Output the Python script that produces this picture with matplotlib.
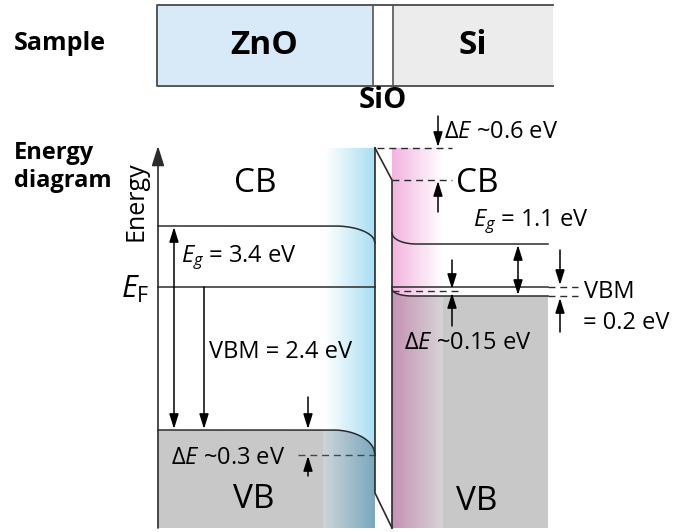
import numpy as np
import matplotlib.pyplot as plt
from matplotlib.patches import Polygon

plt.rcParams['font.family'] = ['Open Sans', 'DejaVu Sans']
plt.rcParams['mathtext.fontset'] = 'custom'
plt.rcParams['mathtext.rm'] = 'Open Sans'
plt.rcParams['mathtext.it'] = 'Open Sans:italic'

# ---- diagram data (y in diagram rows, downward = lower energy) ----
zno_x = [158, 375]          # ZnO slab
si_x = [392, 548]           # Si slab
zno_levels = [226, 287, 430]   # CB, E_F, VB (flat part)
zno_bend = [17, 0, 25]         # downward bending at the interface
si_levels = [244, 287, 296]    # CB, E_F, VB (flat part)
si_bend = [11, 0, 7]           # upward bending at the interface
barrier = [148, 180]           # SiO barrier top (ZnO side, Si side)
bottom, top = 528, 146

LINE = '#2b2b2b'
GRAY = '#c8c8c8'
FS = 17   # body label size
FB = 24   # CB / VB size


def zno_curve(y0, b, x0=335, x1=375, n=60):
    x = np.linspace(zno_x[0], x1, n * 3)
    t = np.clip((x - x0) / (x1 - x0), 0, 1)
    return x, y0 + b * (1 - np.sqrt(1 - t ** 2))


def si_curve(y0, b, width=22, n=180):
    x = np.linspace(si_x[0], si_x[1], n)
    s = np.clip(1 - (x - si_x[0]) / width, 0, 1)
    return x, y0 - b * (1 - np.sqrt(1 - s ** 2))


def hgrad(ax, x0, x1, y0, y1, c0, c1, clip=None, z=1):
    t = np.linspace(0, 1, 64)[None, :, None]
    img = (np.array(c0)[None, None, :] * (1 - t) + np.array(c1)[None, None, :] * t) / 255
    im = ax.imshow(img, extent=(x0, x1, y1, y0), aspect='auto',
                   interpolation='bilinear', zorder=z)
    if clip is not None:
        im.set_clip_path(clip)
    return im


def arrow(ax, x, y_from, y_to, both=False):
    style = '<|-|>' if both else '-|>'
    ax.annotate('', xy=(x, y_to), xytext=(x, y_from),
                arrowprops=dict(arrowstyle=style + ',head_length=0.9,head_width=0.28',
                                color='black', lw=1.1, shrinkA=0, shrinkB=0),
                zorder=6)


fig = plt.figure(figsize=(6.91, 5.32), dpi=100)
ax = fig.add_axes([0, 0, 1, 1])
ax.set_xlim(0, 691)
ax.set_ylim(532, 0)
ax.axis('off')

# ---- sample strip ----
ax.fill_between([157, 373], 5, 86, color='#d8eaf8', lw=0, zorder=1)
ax.fill_between([393, 553], 5, 86, color='#ececec', lw=0, zorder=1)
ax.plot([553, 157, 157, 553], [5, 5, 86, 86], color='#555555', lw=1.4, zorder=2)
ax.plot([373, 373], [5, 86], color='#555555', lw=1.2, zorder=2)
ax.plot([393, 393], [5, 86], color='#555555', lw=1.2, zorder=2)
ax.text(14, 44, 'Sample', fontsize=18, fontweight='bold', va='center', ha='left')
ax.text(264, 46, 'ZnO', fontsize=24, fontweight='bold', ha='center', va='center')
ax.text(473, 45, 'Si', fontsize=24, fontweight='bold', ha='center', va='center')
ax.text(383, 101, 'SiO', fontsize=21, fontweight='bold', ha='center', va='center')
ax.text(14, 167, 'Energy\ndiagram', fontsize=17, fontweight='bold', va='center',
        ha='left', linespacing=1.25)

# ---- ZnO side ----
xv, yv = zno_curve(zno_levels[2], zno_bend[2], x0=333)
vb_poly = Polygon(np.vstack([np.column_stack([xv, yv]),
                             [[zno_x[1], bottom], [zno_x[0], bottom]]]),
                  closed=True, fc=GRAY, ec='none', zorder=1)
ax.add_patch(vb_poly)
hgrad(ax, 325, zno_x[1], barrier[0], bottom, (255, 255, 255), (168, 222, 243), z=1.5)
hgrad(ax, 323, zno_x[1], barrier[0], bottom, (206, 212, 216), (122, 168, 190),
      clip=vb_poly, z=1.6)

xc, yc = zno_curve(zno_levels[0], zno_bend[0])
ax.plot(xc, yc, color=LINE, lw=1.1, zorder=4)
ax.plot(xv, yv, color=LINE, lw=1.1, zorder=4)
ax.plot(zno_x, [zno_levels[1]] * 2, color=LINE, lw=1.1, zorder=4)
ax.plot([298, zno_x[1]], [zno_levels[2] + zno_bend[2]] * 2, color='#3a4a55',
        lw=1.0, ls=(0, (5, 3.5)), zorder=4)

# ---- Si side ----
xsv, ysv = si_curve(si_levels[2], si_bend[2], width=20)
si_poly = Polygon(np.vstack([np.column_stack([xsv, ysv]),
                             [[si_x[1], bottom], [si_x[0], bottom]]]),
                  closed=True, fc=GRAY, ec='none', zorder=1)
ax.add_patch(si_poly)
hgrad(ax, si_x[0], 443, barrier[0], bottom, (242, 180, 224), (255, 255, 255), z=1.5)
hgrad(ax, si_x[0], 443, barrier[0], bottom, (198, 146, 180), (214, 211, 214),
      clip=si_poly, z=1.6)

xsc, ysc = si_curve(si_levels[0], si_bend[0], width=24)
ax.plot(xsc, ysc, color=LINE, lw=1.1, zorder=4)
ax.plot(xsv, ysv, color=LINE, lw=1.1, zorder=4)
ax.plot(si_x, [si_levels[1]] * 2, color=LINE, lw=1.1, zorder=4)
dash = dict(color=LINE, lw=1.0, ls=(0, (5, 3.5)), zorder=4)
ax.plot([si_x[1], 578], [si_levels[1]] * 2, **dash)
ax.plot([si_x[1], 578], [si_levels[2]] * 2, **dash)
ax.plot([si_x[0], 462], [si_levels[2] - 5] * 2, **dash)
ax.plot([377, 452], [barrier[0]] * 2, **dash)
ax.plot([si_x[0], 452], [barrier[1]] * 2, **dash)

# ---- SiO barrier outline ----
ax.plot([zno_x[1], zno_x[1], si_x[0]], [barrier[0], 493, bottom], color=LINE, lw=1.2, zorder=5)
ax.plot([zno_x[1], si_x[0], si_x[0]], [barrier[0], barrier[1], bottom], color=LINE, lw=1.2, zorder=5)

# ---- energy axis ----
ax.annotate('', xy=(zno_x[0], top), xytext=(zno_x[0], bottom),
            arrowprops=dict(arrowstyle='-|>,head_length=1.2,head_width=0.38',
                            color=LINE, lw=1.2, shrinkA=0, shrinkB=0), zorder=6)
ax.text(136, 201, 'Energy', rotation=90, fontsize=18, ha='center', va='center')
ax.text(149, 289, r'$E_{\mathrm{F}}$', fontsize=22, ha='right', va='center')

# ---- arrows ----
arrow(ax, 174, 429, 227, both=True)
arrow(ax, 204, zno_levels[1], 429)
arrow(ax, 308, 397, 429)
arrow(ax, 308, 476, 456)
arrow(ax, 438, 116, 147)
arrow(ax, 438, 212, 181)
arrow(ax, 518, 295, 245, both=True)
arrow(ax, 560, 250, 285)
arrow(ax, 560, 332, 298)
arrow(ax, 452, 260, 289)
arrow(ax, 452, 326, 293)

# ---- labels ----
ax.text(255, 183, 'CB', fontsize=FB, ha='center', va='center', zorder=7)
ax.text(181, 258, r'$E_g$ = 3.4 eV', fontsize=FS, ha='left', va='center', zorder=7)
ax.text(209, 352, 'VBM = 2.4 eV', fontsize=FS, ha='left', va='center', zorder=7)
ax.text(171, 458, r'Δ$E$ ~0.3 eV', fontsize=FS, ha='left', va='center', zorder=7)
ax.text(254, 500, 'VB', fontsize=FB, ha='center', va='center', zorder=7)
ax.text(444, 132, r'Δ$E$ ~0.6 eV', fontsize=FS, ha='left', va='center', zorder=7)
ax.text(456, 184, 'CB', fontsize=FB, ha='left', va='center', zorder=7)
ax.text(473, 222, r'$E_g$ = 1.1 eV', fontsize=FS, ha='left', va='center', zorder=7)
ax.text(584, 292, 'VBM', fontsize=FS, ha='left', va='center', zorder=7)
ax.text(583, 323, '= 0.2 eV', fontsize=FS, ha='left', va='center', zorder=7)
ax.text(404, 343, r'Δ$E$ ~0.15 eV', fontsize=FS, ha='left', va='center', zorder=7)
ax.text(477, 502, 'VB', fontsize=FB, ha='center', va='center', zorder=7)

fig.savefig('out.png', dpi=100)
